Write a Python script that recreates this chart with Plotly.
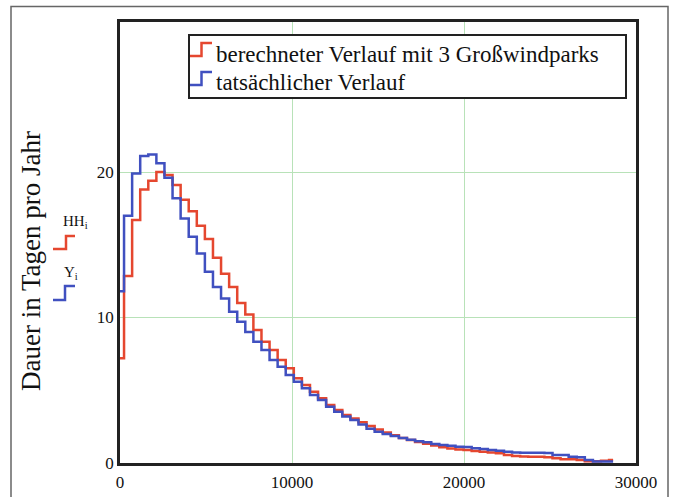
import plotly.graph_objects as go

# Bin spacing of the step traces (x units)
BIN = 470

# berechneter Verlauf mit 3 Großwindparks (HH_i)
hh_values = [7.2, 12.85, 16.7, 18.8, 19.4, 20.0, 19.8, 19.1, 18.1, 17.3,
             16.3, 15.4, 14.1, 13.0, 12.1, 11.0, 10.2, 9.14, 8.34, 7.77,
             7.08, 6.51, 5.82, 5.36, 4.9, 4.45, 3.99, 3.64, 3.3, 3.05,
             2.8, 2.55, 2.3, 2.1, 1.9, 1.72, 1.58, 1.45, 1.32, 1.2,
             1.08, 1.0, 0.92, 0.89, 0.82, 0.78, 0.72, 0.67, 0.55, 0.48,
             0.45, 0.43, 0.43, 0.4, 0.32, 0.25, 0.25, 0.2, 0.12, 0.12,
             0.15, 0.2]

# tatsächlicher Verlauf (Y_i)
y_values = [11.8, 17.0, 19.9, 21.1, 21.2, 20.6, 19.6, 18.2, 16.8, 15.55,
            14.4, 13.15, 12.1, 11.3, 10.4, 9.7, 9.0, 8.34, 7.77, 7.08,
            6.62, 6.05, 5.59, 5.13, 4.67, 4.33, 3.87, 3.53, 3.2, 2.95,
            2.65, 2.35, 2.15, 2.0, 1.85, 1.72, 1.6, 1.5, 1.42, 1.3,
            1.24, 1.18, 1.12, 1.1, 1.02, 0.96, 0.9, 0.85, 0.78, 0.72,
            0.71, 0.7, 0.7, 0.68, 0.55, 0.55, 0.43, 0.39, 0.2, 0.1,
            0.1, 0.1]

x_vals = [i * BIN for i in range(len(y_values))]

x_ticks = [0, 10000, 20000, 30000]
y_ticks = [0, 10, 20]

legend_labels = ["berechneter Verlauf mit 3 Großwindparks", "tatsächlicher Verlauf"]
trace_labels = ["HH<sub>i</sub>", "Y<sub>i</sub>"]
y_title = "Dauer in Tagen pro Jahr"

RED = "#e5472f"
BLUE = "#4050c0"
FONT = "Liberation Serif"
TXT = "#111"

W, H = 674, 497
L, R, T, B = 120, 38, 22, 34
PW, PH = W - L - R, H - T - B


def px(xp):
    return (xp - L) / PW


def py(yp):
    return (H - B - yp) / PH


fig = go.Figure()
fig.add_trace(go.Scatter(x=x_vals, y=hh_values, mode="lines",
                         line=dict(color=RED, width=2.5, shape="hvh"),
                         name=legend_labels[0], showlegend=False))
fig.add_trace(go.Scatter(x=x_vals, y=y_values, mode="lines",
                         line=dict(color=BLUE, width=2.5, shape="hvh"),
                         name=legend_labels[1], showlegend=False))

shapes = []
# outer frame
shapes.append(dict(type="rect", xref="paper", yref="paper",
                   x0=px(11), x1=px(668), y0=py(510), y1=py(6.5),
                   line=dict(color="#666", width=1.5), layer="below"))
# legend box
shapes.append(dict(type="rect", xref="paper", yref="paper",
                   x0=px(189), x1=px(626), y0=py(98), y1=py(35),
                   line=dict(color="#222", width=2), fillcolor="white"))


def step_symbol(x0, xm, x1, ylo, yhi, color):
    return dict(type="path", xref="paper", yref="paper",
                path=f"M {px(x0)},{py(ylo)} L {px(xm)},{py(ylo)} L {px(xm)},{py(yhi)} L {px(x1)},{py(yhi)}",
                line=dict(color=color, width=2.5))


# legend step symbols
shapes.append(step_symbol(190, 201.5, 212, 56, 43, RED))
shapes.append(step_symbol(190, 201.5, 212, 85, 72, BLUE))
# left trace labels symbols
shapes.append(step_symbol(53, 66, 75, 249, 236, RED))
shapes.append(step_symbol(53, 65, 75, 300, 286, BLUE))

annotations = [
    dict(xref="paper", yref="paper", x=px(214), y=py(54), xanchor="left", yanchor="middle",
         text=legend_labels[0], showarrow=False, font=dict(family=FONT, size=23, color=TXT)),
    dict(xref="paper", yref="paper", x=px(214), y=py(82), xanchor="left", yanchor="middle",
         text=legend_labels[1], showarrow=False, font=dict(family=FONT, size=23, color=TXT)),
    dict(xref="paper", yref="paper", x=px(75), y=py(222), xanchor="center", yanchor="middle",
         text=trace_labels[0], showarrow=False, font=dict(family=FONT, size=15, color=TXT)),
    dict(xref="paper", yref="paper", x=px(71), y=py(273), xanchor="center", yanchor="middle",
         text=trace_labels[1], showarrow=False, font=dict(family=FONT, size=15, color=TXT)),
    dict(xref="paper", yref="paper", x=px(31), y=py(261), xanchor="center", yanchor="middle",
         text=y_title, textangle=-90, showarrow=False, font=dict(family=FONT, size=27, color=TXT)),
]

fig.update_layout(
    width=W, height=H,
    margin=dict(l=L, r=R, t=T, b=B, autoexpand=False),
    paper_bgcolor="white", plot_bgcolor="white",
    shapes=shapes, annotations=annotations,
    font=dict(family=FONT, size=17, color=TXT),
    xaxis=dict(range=[0, 30000], tickvals=x_ticks, ticktext=[str(v) for v in x_ticks],
               showgrid=True, gridcolor="#b8e2b8", gridwidth=1, zeroline=False,
               showline=True, linecolor="#222", linewidth=2.5, mirror=True,
               automargin=False,
               ticks="outside", ticklen=2, tickcolor="rgba(0,0,0,0)",
               tickfont=dict(family=FONT, size=17, color=TXT)),
    yaxis=dict(range=[0, 30.31], tickvals=y_ticks, ticktext=[str(v) for v in y_ticks],
               showgrid=True, gridcolor="#b8e2b8", gridwidth=1, zeroline=False,
               showline=True, linecolor="#222", linewidth=2.5, mirror=True,
               automargin=False, ticks="",
               tickfont=dict(family=FONT, size=17, color=TXT)),
    showlegend=False,
)

fig.write_html("out.html")
